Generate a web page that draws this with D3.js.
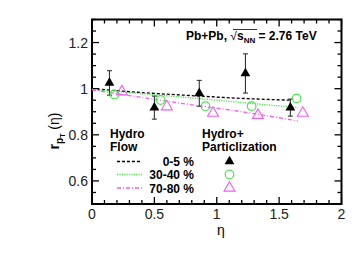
<!DOCTYPE html>
<html>
<head>
<meta charset="utf-8">
<script src="https://cdn.jsdelivr.net/npm/d3@7"></script>
<style>
  body { margin: 0; background: #fff; }
  svg { font-family: "Liberation Sans", Arial, sans-serif; }
</style>
</head>
<body>
<div id="chart"></div>
<script>
const W = 355, H = 266;
const frame = { left: 92, right: 341.5, top: 19.5, bottom: 204 };

const xTicks = [0, 0.5, 1, 1.5, 2];
const yTicks = [0.6, 0.8, 1, 1.2];

// hydro flow curves
const flowEta = [0, 0.4, 0.8, 1.2, 1.6];
const flow0_5 = [1.0, 0.983, 0.970, 0.958, 0.950];
const flowEta30 = [0, 0.4, 0.8, 1.2, 1.65];
const flow30_40 = [0.997, 0.978, 0.960, 0.940, 0.918];
const flowEta70 = [0, 0.4, 0.8, 1.2, 1.65];
const flow70_80 = [0.995, 0.962, 0.930, 0.900, 0.860];

// hydro + particlization points
const pEta0_5 = [0.14, 0.50, 0.86, 1.23, 1.59];
const p0_5 = [1.025, 0.918, 0.980, 1.066, 0.918];
const err0_5 = [0.053, 0.050, 0.056, 0.085, 0.037];
const pEta30_40 = [0.18, 0.55, 0.91, 1.28, 1.64];
const p30_40 = [0.975, 0.951, 0.924, 0.924, 0.958];
const pEta70_80 = [0.24, 0.60, 0.97, 1.33, 1.69];
const p70_80 = [0.987, 0.922, 0.894, 0.885, 0.894];

const green = "#4ee24e", magenta = "#f55cf5";

const svg = d3.select("#chart").append("svg").attr("width", W).attr("height", H);

const x = d3.scaleLinear().domain([0, 2]).range([frame.left, frame.right]);
const y = d3.scaleLinear().domain([0.5, 1.3]).range([frame.bottom, frame.top]);

// ticks (inside, all four sides)
const xMinor = d3.range(0, 2.0001, 0.1);
const yMinor = d3.range(0.5, 1.3001, 0.05);
const tk = svg.append("g").attr("stroke", "#000").attr("stroke-width", 1.3);
xMinor.forEach((v, i) => {
  const len = i % 5 === 0 ? 7 : 4;
  tk.append("line").attr("x1", x(v)).attr("x2", x(v)).attr("y1", frame.bottom).attr("y2", frame.bottom - len);
  tk.append("line").attr("x1", x(v)).attr("x2", x(v)).attr("y1", frame.top).attr("y2", frame.top + len);
});
yMinor.forEach(v => {
  const len = (Math.round(v * 100) % 20 === 0) ? 7 : 4;
  tk.append("line").attr("x1", frame.left).attr("x2", frame.left + len).attr("y1", y(v)).attr("y2", y(v));
  tk.append("line").attr("x1", frame.right).attr("x2", frame.right - len).attr("y1", y(v)).attr("y2", y(v));
});

svg.append("rect")
  .attr("x", frame.left).attr("y", frame.top)
  .attr("width", frame.right - frame.left).attr("height", frame.bottom - frame.top)
  .attr("fill", "none").attr("stroke", "#000").attr("stroke-width", 2);

// tick labels
svg.selectAll(".xl").data(xTicks).join("text")
  .attr("x", d => x(d)).attr("y", 219)
  .attr("text-anchor", "middle").attr("font-size", 14).attr("fill", "#222")
  .text(d => d);
svg.selectAll(".yl").data(yTicks).join("text")
  .attr("x", 88).attr("y", d => y(d) + 5)
  .attr("text-anchor", "end").attr("font-size", 14).attr("fill", "#222")
  .text(d => d);

// axis titles
svg.append("text").attr("x", 221).attr("y", 235)
  .attr("text-anchor", "middle").attr("font-size", 14).text("η");

const yt = svg.append("text")
  .attr("transform", "translate(59,131) rotate(-90)")
  .attr("text-anchor", "middle").attr("font-size", 14);
yt.append("tspan").attr("font-weight", "bold").text("r");
yt.append("tspan").attr("font-weight", "bold").attr("font-size", 10).attr("dy", 4).text("p");
yt.append("tspan").attr("font-weight", "bold").attr("font-size", 7).attr("dy", 2).text("T");
yt.append("tspan").attr("dy", -6).text(" (η)");

// title
const tt = svg.append("text").attr("x", 186).attr("y", 40)
  .attr("font-size", 12).attr("font-weight", "bold");
tt.append("tspan").text("Pb+Pb, ");
tt.append("tspan").attr("font-weight", "normal").text("\u221A");
tt.append("tspan").text("s");
tt.append("tspan").attr("font-size", 8).attr("dy", 3).text("NN");
tt.append("tspan").attr("dy", -3).text(" = 2.76 TeV");
// sqrt overbar
svg.append("line").attr("x1", 233).attr("x2", 257).attr("y1", 29.5).attr("y2", 29.5)
  .attr("stroke", "#000").attr("stroke-width", 0.8);

// curves
const line = d3.line().x(d => x(d[0])).y(d => y(d[1])).curve(d3.curveMonotoneX);
const curves = [
  { eta: flowEta, v: flow0_5, color: "#000", dash: "3,2" },
  { eta: flowEta30, v: flow30_40, color: green, dash: "1.2,1.2" },
  { eta: flowEta70, v: flow70_80, color: magenta, dash: "4,2,1,2" }
];
curves.forEach(c => {
  svg.append("path")
    .datum(c.eta.map((e, i) => [e, c.v[i]]))
    .attr("fill", "none").attr("stroke", c.color).attr("stroke-width", 1.3)
    .attr("stroke-dasharray", c.dash).attr("d", line);
});

// error bars
const eb = svg.append("g").attr("stroke", "#333").attr("stroke-width", 1.1);
pEta0_5.forEach((e, i) => {
  const cx = x(e);
  const yt0 = y(p0_5[i] + err0_5[i]), yb0 = y(p0_5[i] - err0_5[i]);
  eb.append("line").attr("x1", cx).attr("x2", cx).attr("y1", yt0).attr("y2", yb0);
  eb.append("line").attr("x1", cx - 2.5).attr("x2", cx + 2.5).attr("y1", yt0).attr("y2", yt0);
  eb.append("line").attr("x1", cx - 2.5).attr("x2", cx + 2.5).attr("y1", yb0).attr("y2", yb0);
});

const tri = d3.symbol().type(d3.symbolTriangle).size(42);
const triOpen = d3.symbol().type(d3.symbolTriangle).size(52);

svg.selectAll(".m1").data(pEta0_5).join("path")
  .attr("transform", (d, i) => `translate(${x(d)},${y(p0_5[i])})`)
  .attr("d", tri).attr("fill", "#000");
svg.selectAll(".m2").data(pEta30_40).join("circle")
  .attr("cx", d => x(d)).attr("cy", (d, i) => y(p30_40[i])).attr("r", 4.3)
  .attr("fill", "none").attr("stroke", green).attr("stroke-width", 1.2);
svg.selectAll(".m3").data(pEta70_80).join("path")
  .attr("transform", (d, i) => `translate(${x(d)},${y(p70_80[i])})`)
  .attr("d", triOpen).attr("fill", "none").attr("stroke", magenta).attr("stroke-width", 1.1);

// legend
const lg = svg.append("g").attr("font-size", 12).attr("font-weight", "bold");
lg.append("text").attr("x", 110).attr("y", 138).text("Hydro");
lg.append("text").attr("x", 110).attr("y", 151).text("Flow");
lg.append("text").attr("x", 202).attr("y", 138).text("Hydro+");
lg.append("text").attr("x", 202).attr("y", 151).text("Particlization");

const legLabels = ["0-5 %", "30-40 %", "70-80 %"];
const legY = [161.5, 174.5, 188];
legLabels.forEach((lab, i) => {
  const c = curves[i];
  svg.append("line").attr("x1", 117).attr("x2", 142).attr("y1", legY[i]).attr("y2", legY[i])
    .attr("stroke", c.color).attr("stroke-width", 1.3).attr("stroke-dasharray", c.dash);
  lg.append("text").attr("x", 194).attr("y", legY[i] + 4.5).attr("text-anchor", "end").text(lab);
});
svg.append("path").attr("transform", `translate(229.5,${legY[0]})`).attr("d", tri).attr("fill", "#000");
svg.append("circle").attr("cx", 229.5).attr("cy", legY[1]).attr("r", 4.3)
  .attr("fill", "none").attr("stroke", green).attr("stroke-width", 1.2);
svg.append("path").attr("transform", `translate(229.5,${legY[2]})`).attr("d", triOpen)
  .attr("fill", "none").attr("stroke", magenta).attr("stroke-width", 1.1);
</script>
</body>
</html>
